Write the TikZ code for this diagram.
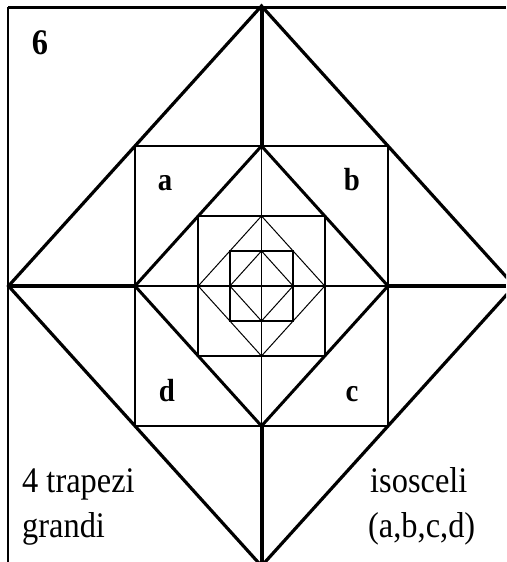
\documentclass[tikz,border=0pt]{standalone}
\usepackage{fontspec}
\setmainfont{Liberation Serif}
\begin{document}
\begin{tikzpicture}[x=1pt,y=-1pt,line join=miter,
  txt/.style={inner sep=0pt,font=\fontsize{36}{45}\selectfont},
  lab/.style={inner sep=0pt,font=\fontsize{32}{38}\selectfont\bfseries}]
\useasboundingbox (0,0) rectangle (506,562);
\clip (0,0) rectangle (506,562);
\def\cx{261.5}\def\cy{286}
\newcommand{\dia}[3]{\draw[line width=#3] (\cx,\cy-#2) -- (\cx-#1,\cy) -- (\cx,\cy+#2) -- (\cx+#1,\cy) -- cycle;}
\newcommand{\sqr}[3]{\draw[line width=#3] (\cx-#1,\cy-#2) rectangle (\cx+#1,\cy+#2);}
% frame
\draw[line width=3] (8,7) -- (506,7);
\draw[line width=2] (8,7) -- (8,562);
% center lines
\draw[line width=4] (\cx,7) -- (\cx,146);
\draw[line width=4] (\cx,426) -- (\cx,562);
\draw[line width=4] (8,\cy) -- (135,\cy);
\draw[line width=4] (388,\cy) -- (506,\cy);
\draw[line width=1.8] (\cx,146) -- (\cx,426) (135,\cy) -- (388,\cy);
% nested figures
\dia{253}{280}{3.2}
\sqr{126.5}{140}{2}
\dia{126.5}{140}{3}
\sqr{63.25}{70}{2}
\dia{63.25}{70}{1}
\sqr{31.6}{35}{2}
\dia{31.6}{35}{1}
% labels
\node[lab,anchor=base,font=\fontsize{36}{42}\selectfont\bfseries] (n6) at (40,54) {\scalebox{0.9}[1]{6}};
\node[lab,anchor=base] (la) at (165,190) {\scalebox{0.9}[1]{a}};
\node[lab,anchor=base] (lb) at (352,190) {\scalebox{0.9}[1]{b}};
\node[lab,anchor=base] (lc) at (352,401) {\scalebox{0.9}[1]{c}};
\node[lab,anchor=base] (ld) at (167,401) {\scalebox{0.9}[1]{d}};
\node[txt,anchor=base west] (t1) at (22,492) {\scalebox{0.9}[1]{4 trapezi}};
\node[txt,anchor=base west] (t2) at (22,537) {\scalebox{0.9}[1]{grandi}};
\node[txt,anchor=base west] (t3) at (370,492) {\scalebox{0.9}[1]{isosceli}};
\node[txt,anchor=base west] (t4) at (368,537) {\scalebox{0.9}[1]{(a,b,c,d)}};
\end{tikzpicture}
\end{document}
